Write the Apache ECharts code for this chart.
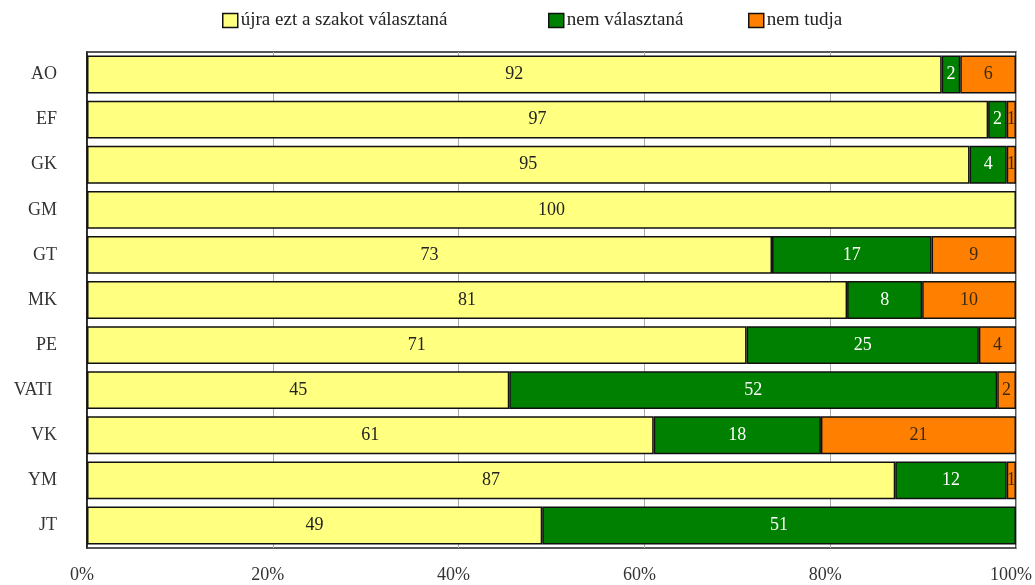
<!DOCTYPE html>
<html><head><meta charset="utf-8">
<script src="https://cdn.jsdelivr.net/npm/echarts@6/dist/echarts.min.js"></script>
<style>html,body{margin:0;padding:0;background:#fff;overflow:hidden}#c{width:1035px;height:585px}</style>
</head><body><div id="c"></div>
<script>
const categories = ['AO','EF','GK','GM','GT','MK','PE','VATI ','VK','YM','JT'];
const seriesNames = ['újra ezt a szakot választaná','nem választaná','nem tudja'];
const again = [92,97,95,100,73,81,71,45,61,87,49];
const notAgain = [2,2,4,0,17,8,25,52,18,12,51];
const dontKnow = [6,1,1,0,9,10,4,2,21,1,0];
const tickLabels = ['0%','20%','40%','60%','80%','100%'];

const raw = [again, notAgain, dontKnow];
const totals = categories.map((_, i) => again[i] + notAgain[i] + dontKnow[i]);
const colors = ['#FFFF80', '#008000', '#FF8000'];
const labelColors = ['#222', '#fff', '#3a2a10'];
const FONT = 'Liberation Serif';
const legendLefts = [217, 543, 743];

const series = raw.map((arr, s) => ({
  name: seriesNames[s],
  type: 'bar',
  stack: 'total',
  barCategoryGap: '16%',
  data: arr.map((v, i) => v === 0 ? null : { value: v / totals[i] * 100, raw: v }),
  itemStyle: { color: colors[s], borderColor: '#111', borderWidth: 1.5 },
  label: {
    show: true, position: 'inside', color: labelColors[s],
    fontFamily: FONT, fontSize: 18,
    formatter: p => p.data ? String(p.data.raw) : ''
  },
  emphasis: { disabled: true }
}));

const chart = echarts.init(document.getElementById('c'));
chart.setOption({
  animation: false,
  textStyle: { fontFamily: FONT },
  legend: seriesNames.map((n, s) => ({
    top: 6, left: legendLefts[s], itemWidth: 15, itemHeight: 14,
    icon: 'rect', selectedMode: false,
    itemStyle: { borderColor: '#111', borderWidth: 1.5 },
    textStyle: { fontFamily: FONT, fontSize: 19, color: '#222', padding: [0, 0, 0, -2] },
    data: [n]
  })),
  grid: { left: 87, right: 8, top: 52, bottom: 37, show: true, borderColor: '#222', borderWidth: 1.5, containLabel: false },
  xAxis: {
    type: 'value', min: 0, max: 100, interval: 20,
    axisLine: { show: false }, axisTick: { show: false },
    splitLine: { show: true, lineStyle: { color: '#aaa', width: 1 } },
    axisLabel: { fontFamily: FONT, fontSize: 18, color: '#333', margin: 18, padding: [0, 10, 0, 0],
      formatter: v => tickLabels[Math.round(v / 20)] }
  },
  yAxis: {
    type: 'category', data: categories, inverse: true,
    axisLine: { show: true, lineStyle: { color: '#111', width: 1.5 } },
    axisTick: { show: false },
    axisLabel: { fontFamily: FONT, fontSize: 18, color: '#333', margin: 30 }
  },
  series
});
</script></body></html>
